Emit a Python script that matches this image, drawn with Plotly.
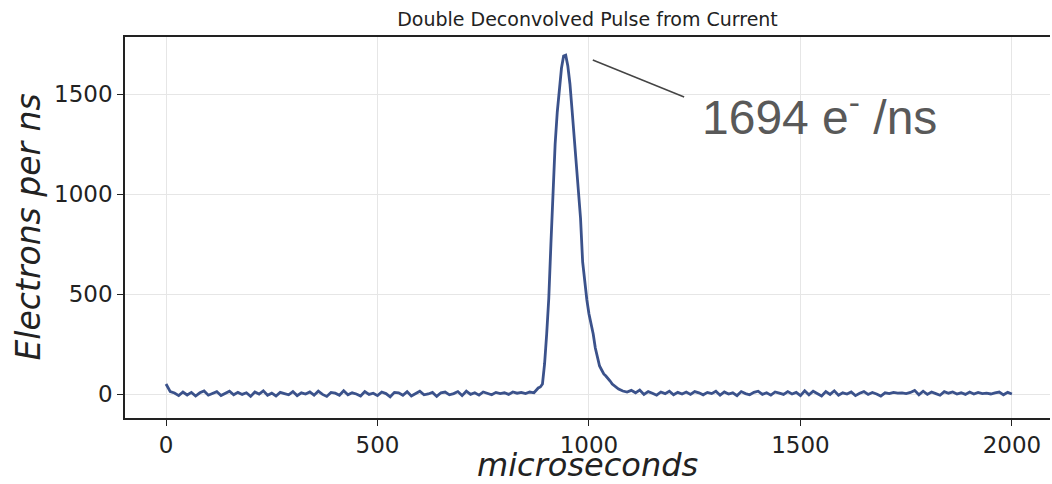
import plotly.graph_objects as go

# time axis (microseconds): 10 us steps on the baseline, 5 us steps across the pulse
time_pre = list(range(0, 880, 10))
time_peak = list(range(880, 1085, 5))
time_post = list(range(1090, 2001, 10))
time_us = time_pre + time_peak + time_post

baseline_pre = [50, 12, 5, -8, 10, -5, 8, -10, 6, 15,
                -6, 4, 12, -8, 2, 14, -4, 8, -2, 6,
                -12, 10, 0, 16, -6, 4, -10, 8, 2, -4,
                12, -8, 6, 0, 10, -6, 14, -2, -12, 8,
                4, -6, 16, -4, 6, 0, -10, 12, -2, 4,
                -8, 10, 2, -14, 8, 6, -6, 12, -10, 4,
                14, -4, 0, 8, -12, 6, 10, -4, 2, 12,
                -8, 14, -2, 6, -6, 10, 4, -4, 8, 2,
                6, -2, 10, 4, 8, 2, 10, 6]
peak = [30, 35, 50, 150, 300, 480, 750, 1030, 1250, 1410,
        1520, 1630, 1690, 1694, 1640, 1550, 1420, 1280, 1160, 1040,
        880, 660, 560, 470, 400, 350, 300, 230, 180, 140,
        120, 100, 90, 80, 65, 50, 40, 30, 25, 20,
        15]
baseline_post = [10, 18, 6, 20, -2, 12, 4, -6, 10,
                 2, 14, -4, 8, 0, 10, -2, 12, 6, -4,
                 8, 2, 14, -6, 10, 0, 6, -8, 12, 2,
                 -4, 8, 14, -2, 6, -6, 10, 4, -2, 12,
                 0, 8, -8, 16, -4, 14, 2, -10, 12, -2,
                 16, -6, 6, 0, 10, -8, 4, 12, -2, 8,
                 0, -10, 6, 2, 8, 4, 6, 2, 8, 18,
                 -4, 14, -2, 10, 2, -6, 12, 4, 10, 0,
                 6, -2, 10, 0, 8, 2, 4, 0, 6, 10,
                 -4, 8, 0, 4]
electrons_per_ns = baseline_pre + peak + baseline_post

x_ticks = [0, 500, 1000, 1500, 2000]
y_ticks = [0, 500, 1000, 1500]
peak_label = "1694 e<sup>-</sup> /ns"
x_title = "<i>microseconds</i>"
y_title = "<i>Electrons per ns</i>"

n = min(len(time_us), len(electrons_per_ns))
fig = go.Figure()
fig.add_trace(go.Scatter(
    x=time_us[:n], y=electrons_per_ns[:n], mode="lines",
    line=dict(color="#3b528b", width=2.8), showlegend=False,
))

fig.add_shape(type="line", x0=1009, y0=1670, x1=1225, y1=1485,
              line=dict(color="#444444", width=1.5))
fig.add_annotation(x=1544, y=1400, text=peak_label, showarrow=False,
                   font=dict(family="Liberation Sans", size=48, color="#595959"))

# axis titles placed as annotations for precise positioning
fig.add_annotation(xref="paper", yref="paper", x=0.5, y=0, yshift=-47,
                   xanchor="center", yanchor="middle", text=x_title, showarrow=False,
                   font=dict(family="DejaVu Sans", size=32, color="#222222"))
fig.add_annotation(xref="paper", yref="paper", x=0, xshift=-97, y=0.5,
                   xanchor="center", yanchor="middle", textangle=-90, text=y_title,
                   showarrow=False,
                   font=dict(family="DejaVu Sans", size=33, color="#222222"))

fig.update_layout(
    width=1052, height=484,
    margin=dict(l=125, r=2, t=37, b=66, autoexpand=False),
    paper_bgcolor="white", plot_bgcolor="white",
    title=dict(text="Double Deconvolved Pulse from Current", x=(125 + 1050) / 2 / 1052,
               xanchor="center", y=1 - 19 / 484, yanchor="middle",
               font=dict(family="DejaVu Sans", size=19, color="#222222")),
    xaxis=dict(range=[-97, 2090], tickvals=x_ticks, showgrid=True, gridcolor="#e6e6e6",
               zeroline=False, showline=True, linecolor="#222222", linewidth=1.5, mirror=True,
               ticks="outside", ticklen=6, tickcolor="#222222", automargin=False,
               tickfont=dict(family="DejaVu Sans", size=23, color="#222222")),
    yaxis=dict(range=[-120, 1785], tickvals=y_ticks, showgrid=True, gridcolor="#e6e6e6",
               zeroline=False, showline=True, linecolor="#222222", linewidth=1.5,
               ticks="outside", ticklen=6, tickcolor="#222222", automargin=False,
               tickfont=dict(family="DejaVu Sans", size=23, color="#222222")),
)

fig.write_html("out.html")
